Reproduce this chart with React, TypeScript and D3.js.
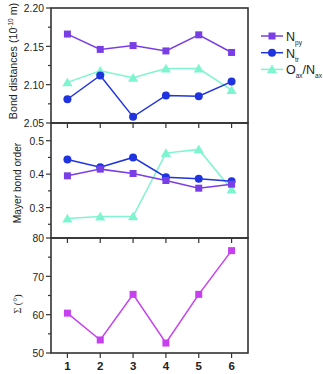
import React from "react";
import * as d3 from "d3";

const xCats = [1, 2, 3, 4, 5, 6];
const bondNpy = [2.166, 2.146, 2.151, 2.144, 2.165, 2.142];
const bondNtr = [2.081, 2.112, 2.058, 2.086, 2.085, 2.104];
const bondOax = [2.103, 2.118, 2.109, 2.121, 2.121, 2.093];
const mayerNpy = [0.395, 0.415, 0.402, 0.381, 0.358, 0.37];
const mayerNtr = [0.444, 0.421, 0.45, 0.391, 0.386, 0.379];
const mayerOax = [0.267, 0.273, 0.274, 0.463, 0.474, 0.354];
const sigma = [60.4, 53.4, 65.3, 52.6, 65.3, 76.7];

const bondTicks = [2.05, 2.1, 2.15, 2.2];
const bondMinor = [2.075, 2.125, 2.175];
const mayerTicks = [0.3, 0.4, 0.5];
const mayerMinor = [0.25, 0.35, 0.45];
const sigmaTicks = [50, 60, 70, 80];
const sigmaMinor = [55, 65, 75];

const C_NPY = "#7a3ee6";
const C_NTR = "#1f33e0";
const C_OAX = "#7ff5cf";
const C_SIG = "#c640f0";
const AX = "#333";
const TXT = "#222";

const L = 51, R = 248;
const x = d3.scaleLinear().domain([0.5, 6.5]).range([L, R]);

type Series = { vals: number[]; color: string; marker: string };

function Marker({ type, cx, cy, color }: { type: string; cx: number; cy: number; color: string }) {
  if (type === "square") return <rect x={cx - 3.5} y={cy - 3.5} width={7} height={7} fill={color} />;
  if (type === "circle") return <circle cx={cx} cy={cy} r={4} fill={color} />;
  const p = d3.symbol().type(d3.symbolTriangle).size(45)();
  return <path d={p as string} transform={`translate(${cx},${cy + 1})`} fill={color} />;
}

function Panel({ top, bottom, domain, ticks, minor, fmt, series }: {
  top: number; bottom: number; domain: [number, number]; ticks: number[]; minor: number[];
  fmt: (v: number) => string; series: Series[];
}) {
  const y = d3.scaleLinear().domain(domain).range([bottom, top]);
  const line = (vals: number[]) =>
    d3.line<number>().x((_, i) => x(xCats[i])).y((v) => y(v))(vals) as string;
  return (
    <g>
      {series.map((s, si) => (
        <g key={si}>
          <path d={line(s.vals)} fill="none" stroke={s.color} strokeWidth={1.5} />
          {s.vals.map((v, i) => (
            <Marker key={i} type={s.marker} cx={x(xCats[i])} cy={y(v)} color={s.color} />
          ))}
        </g>
      ))}
      <rect x={L} y={top} width={R - L} height={bottom - top} fill="none" stroke={AX} strokeWidth={1.6} />
      {ticks.map((t) => (
        <g key={t}>
          <line x1={L - 5} x2={L} y1={y(t)} y2={y(t)} stroke={AX} strokeWidth={1.2} />
          <text transform={`translate(${L - 7},${y(t) + 4.2}) scale(0.9,1)`} textAnchor="end" fontSize={11.5} fill={TXT}>{fmt(t)}</text>
        </g>
      ))}
      {minor.map((t) => (
        <line key={t} x1={L - 3} x2={L} y1={y(t)} y2={y(t)} stroke={AX} strokeWidth={1.2} />
      ))}
      {xCats.map((c) => (
        <line key={c} x1={x(c)} x2={x(c)} y1={bottom} y2={bottom + 5} stroke={AX} strokeWidth={1.2} />
      ))}
    </g>
  );
}

export default function App() {
  const legend = [
    { color: C_NPY, marker: "square", main: "N", sub: "py", rest: "", sub2: "" },
    { color: C_NTR, marker: "circle", main: "N", sub: "tr", rest: "", sub2: "" },
    { color: C_OAX, marker: "triangle", main: "O", sub: "ax", rest: "/N", sub2: "ax" },
  ];
  return (
    <svg width={323} height={374} style={{ position: "absolute", left: 0, top: 0, fontFamily: "Liberation Sans, Arial, sans-serif" }}>
      <rect width={323} height={374} fill="#fff" />
      <Panel top={8} bottom={123} domain={[2.05, 2.2]} ticks={bondTicks} minor={bondMinor}
        fmt={(v) => v.toFixed(2)}
        series={[
          { vals: bondNpy, color: C_NPY, marker: "square" },
          { vals: bondOax, color: C_OAX, marker: "triangle" },
          { vals: bondNtr, color: C_NTR, marker: "circle" },
        ]} />
      <Panel top={123} bottom={238} domain={[0.209, 0.553]} ticks={mayerTicks} minor={mayerMinor}
        fmt={(v) => v.toFixed(1)}
        series={[
          { vals: mayerOax, color: C_OAX, marker: "triangle" },
          { vals: mayerNtr, color: C_NTR, marker: "circle" },
          { vals: mayerNpy, color: C_NPY, marker: "square" },
        ]} />
      <Panel top={238} bottom={353} domain={[50, 80]} ticks={sigmaTicks} minor={sigmaMinor}
        fmt={(v) => String(v)}
        series={[{ vals: sigma, color: C_SIG, marker: "square" }]} />
      {xCats.map((c) => (
        <text key={c} x={x(c)} y={370} textAnchor="middle" fontSize={11.5} fontWeight="bold" fill={TXT}>{c}</text>
      ))}
      <text transform="translate(17,61) rotate(-90)" textAnchor="middle" fontSize={10.7} fill={TXT}>
        Bond distances (10<tspan dy={-4} fontSize={6.5}>-10</tspan><tspan dy={4}> m)</tspan>
      </text>
      <text transform="translate(21,183) rotate(-90)" textAnchor="middle" fontSize={10.2} fill={TXT}>Mayer bond order</text>
      <text transform="translate(20.5,304) rotate(-90)" textAnchor="middle" fontSize={10} fill={TXT}
        fontFamily="Liberation Serif, serif">Σ (°)</text>
      {legend.map((l, i) => {
        const yy = 36 + i * 16.7;
        return (
          <g key={i}>
            <line x1={261} x2={283} y1={yy} y2={yy} stroke={l.color} strokeWidth={1.5} />
            <Marker type={l.marker} cx={272} cy={yy} color={l.color} />
            <text x={286} y={yy + 5} fontSize={12.5} fill={TXT}>
              {l.main}<tspan dy={4} fontSize={6.5}>{l.sub}</tspan>
              {l.rest ? <tspan dy={-4}>{l.rest}</tspan> : null}
              {l.sub2 ? <tspan dy={4} fontSize={6.5}>{l.sub2}</tspan> : null}
            </text>
          </g>
        );
      })}
    </svg>
  );
}
